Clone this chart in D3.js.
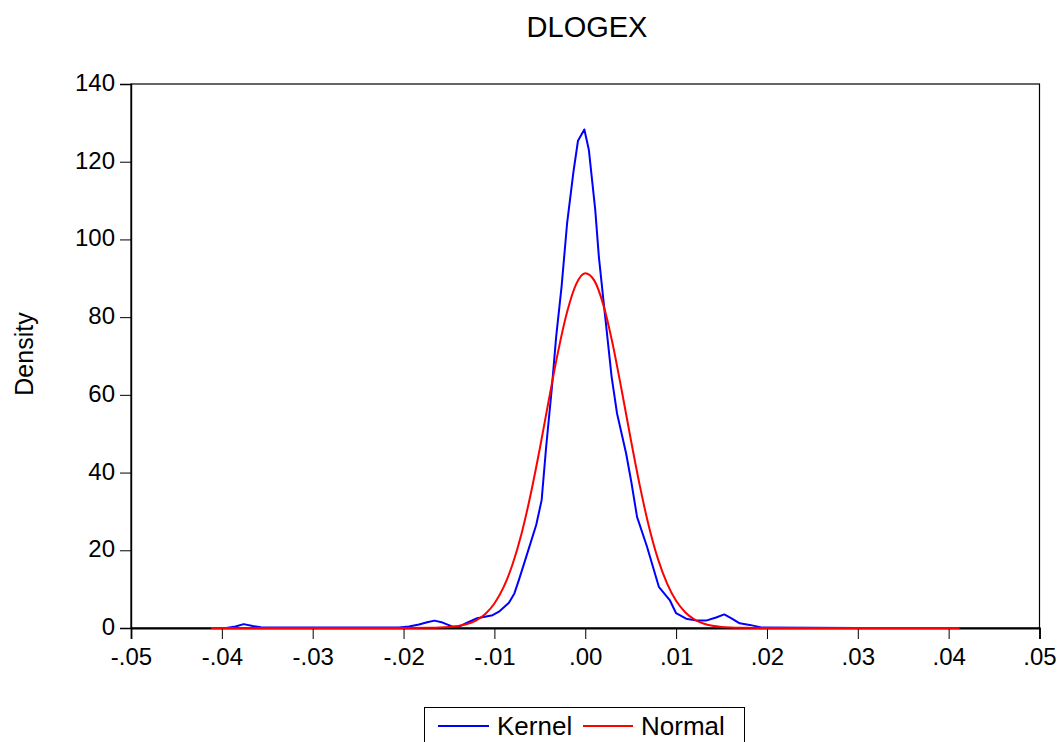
<!DOCTYPE html>
<html><head><meta charset="utf-8">
<script src="https://cdn.jsdelivr.net/npm/d3@7"></script>
<style>body{margin:0;background:#fff}</style>
</head><body><svg id="c" width="1058" height="742"></svg>
<script>
const titleText = "DLOGEX";
const yLabelText = "Density";
const xTicks = [-0.05,-0.04,-0.03,-0.02,-0.01,0,0.01,0.02,0.03,0.04,0.05];
const xTickLabels = ["-.05","-.04","-.03","-.02","-.01",".00",".01",".02",".03",".04",".05"];
const yTicks = [0,20,40,60,80,100,120,140];
const seriesNames = ["Kernel","Normal"];
const seriesColors = ["#0000ff","#ff0000"];
// Kernel density [x, density]
const kernel = [[-0.0395,0],[-0.0385,0.4],[-0.0376,1.0],[-0.0366,0.5],[-0.0357,0.2],[-0.0337,0.15],[-0.030,0.1],[-0.025,0.1],[-0.0205,0.1],[-0.0194,0.4],[-0.0183,0.9],[-0.0174,1.5],[-0.0166,1.9],[-0.0157,1.4],[-0.0146,0.35],[-0.0139,0.35],[-0.0130,1.4],[-0.0119,2.5],[-0.0102,3.3],[-0.0095,4.2],[-0.0084,6.5],[-0.0078,8.9],[-0.0073,12.4],[-0.0065,18.3],[-0.0054,26.5],[-0.0048,32.9],[-0.0043,46.7],[-0.0037,61.2],[-0.0032,75],[-0.0026,88],[-0.0020,104.1],[-0.0013,117.4],[-0.0008,125.4],[-0.0001,128.3],[0.0004,123],[0.0011,107.6],[0.0015,95.5],[0.0020,84.4],[0.0029,64.7],[0.0035,55.2],[0.0045,44.9],[0.0051,37.2],[0.0057,28.6],[0.0068,20.9],[0.0081,10.6],[0.0093,7.2],[0.0100,3.8],[0.0111,2.4],[0.0123,1.9],[0.0133,1.9],[0.0144,2.7],[0.0153,3.5],[0.0161,2.5],[0.0170,1.2],[0.0181,0.8],[0.0195,0.1],[0.025,0.05],[0.030,0.02],[0.035,0.01],[0.0395,0]];
// Normal density [x, density]
const normal = [[-0.0412,0],[-0.030,0],[-0.020,0],[-0.017,0.04],[-0.016,0.1],[-0.015,0.23],[-0.014,0.5],[-0.013,1.02],[-0.012,1.98],[-0.011,3.63],[-0.010,6.32],[-0.009,10.45],[-0.008,16.4],[-0.007,24.4],[-0.006,34.5],[-0.005,46.2],[-0.004,58.8],[-0.003,71.0],[-0.002,81.3],[-0.001,88.5],[0.000,91.3],[0.001,89.4],[0.002,83.1],[0.003,73.3],[0.004,61.3],[0.005,48.7],[0.006,36.7],[0.007,26.2],[0.008,17.8],[0.009,11.5],[0.010,7.0],[0.011,4.07],[0.012,2.24],[0.013,1.17],[0.014,0.58],[0.015,0.27],[0.016,0.12],[0.017,0.05],[0.020,0],[0.030,0],[0.0412,0]];

const svg = d3.select("#c");
const font = "'Liberation Sans', Arial, sans-serif";
const L = 131, R = 1039.5, T = 84, B = 628;
const x = d3.scaleLinear().domain([-0.05,0.05]).range([L,R]);
const y = d3.scaleLinear().domain([0,140]).range([B,T]);

svg.append("rect").attr("width",1058).attr("height",742).attr("fill","#fff");

// frame
svg.append("rect").attr("x",L).attr("y",T).attr("width",R-L).attr("height",B-T)
  .attr("fill","none").attr("stroke","#000").attr("stroke-width",1.2);

// axes
const xAxis = d3.axisBottom(x).tickValues(xTicks).tickSize(11).tickPadding(9)
  .tickFormat((d,i)=>xTickLabels[i]);
const gx = svg.append("g").attr("transform",`translate(0,${B})`).call(xAxis);
gx.select(".domain").attr("stroke-width",1.8);
gx.selectAll("text").attr("font-family",font).attr("font-size",24).attr("fill","#000");
const yAxis = d3.axisLeft(y).tickValues(yTicks).tickSize(11).tickPadding(5);
const gy = svg.append("g").attr("transform",`translate(${L},0)`).call(yAxis);
gy.select(".domain").attr("stroke-width",1.4);
gy.selectAll("text").attr("font-family",font).attr("font-size",24).attr("fill","#000").attr("dy","0.27em");

// lines
const kline = d3.line().x(d=>x(d[0])).y(d=>y(d[1])).curve(d3.curveLinear);
const nline = d3.line().x(d=>x(d[0])).y(d=>y(d[1])).curve(d3.curveMonotoneX);
svg.append("path").datum(kernel).attr("d",kline).attr("fill","none")
  .attr("stroke",seriesColors[0]).attr("stroke-width",2).attr("stroke-linejoin","round");
svg.append("path").datum(normal).attr("d",nline).attr("fill","none")
  .attr("stroke",seriesColors[1]).attr("stroke-width",2);

// title
svg.append("text").attr("x",587).attr("y",37).attr("text-anchor","middle")
  .attr("font-family",font).attr("font-size",29).text(titleText);
// y label
svg.append("text").attr("transform","translate(33,354) rotate(-90)").attr("text-anchor","middle")
  .attr("font-family",font).attr("font-size",25).text(yLabelText);

// legend
const lg = svg.append("g");
lg.append("rect").attr("x",424.5).attr("y",707.5).attr("width",320).attr("height",50)
  .attr("fill","#fff").attr("stroke","#000").attr("stroke-width",1);
const legX = [[438,489,497],[583,633,641]];
seriesNames.forEach((n,i)=>{
  lg.append("line").attr("x1",legX[i][0]).attr("x2",legX[i][1]).attr("y1",726).attr("y2",726)
    .attr("stroke",seriesColors[i]).attr("stroke-width",2);
  lg.append("text").attr("x",legX[i][2]).attr("y",735).attr("font-family",font)
    .attr("font-size",26).text(n);
});
</script></body></html>
